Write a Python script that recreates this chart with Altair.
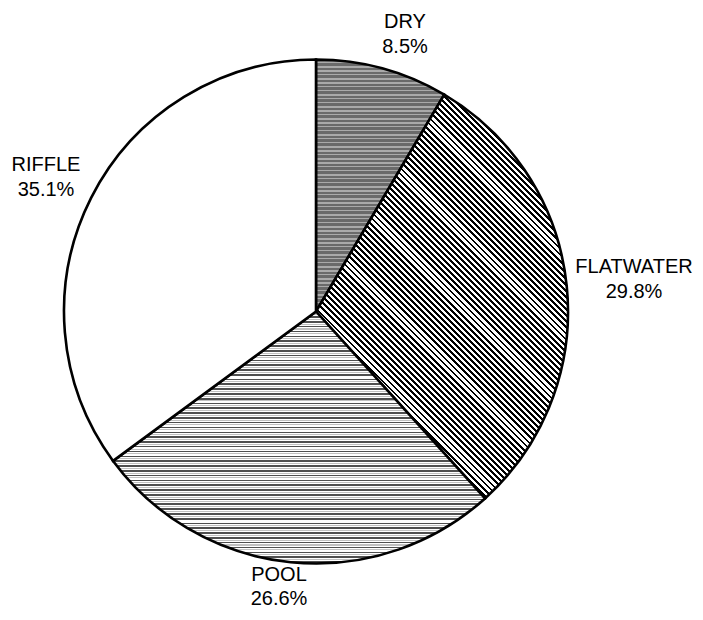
import math
import altair as alt
import pandas as pd

# ---- data ----
categories = ["DRY", "FLATWATER", "POOL", "RIFFLE"]
percents = [8.5, 29.8, 26.6, 35.1]
pct_labels = ["8.5%", "29.8%", "26.6%", "35.1%"]

# ---- layout ----
W, H = 687, 600            # svg size (page has 8px margin)
CX, CY = 308, 303.5        # pie centre in svg coords
R = 252                    # pie radius
# first-line centre offsets of each label from pie centre (pixels)
LABEL_POS = [(89, -289.5), (318, -44.5), (-37, 263), (-270, -146.5)]
FONT = "Liberation Sans"
FONT_SIZE = 20
LINE_H = 24.5

starts, ends = [], []
acc = 0.0
for p in percents:
    starts.append(acc)
    acc += p
    ends.append(acc)
total = acc

df = pd.DataFrame({
    "category": categories,
    "percent": percents,
    "label": [c + "\n" + l for c, l in zip(categories, pct_labels)],
    "start": starts,
    "end": ends,
    "mid": [(s + e) / 2 for s, e in zip(starts, ends)],
})


def arc_bbox(a0, a1):
    pts = [(0.0, 0.0)]
    angs = [a0, a1] + [k * 90 for k in range(5) if a0 < k * 90 < a1]
    for a in angs:
        r = math.radians(a)
        pts.append((R * math.sin(r), -R * math.cos(r)))
    xs = [p[0] for p in pts]
    ys = [p[1] for p in pts]
    return min(xs), min(ys), max(xs) - min(xs), max(ys) - min(ys)


def stripes(a0, a1, n, segs):
    _, _, w, h = arc_bbox(a0, a1)
    nx, ny = n
    norm = math.hypot(nx, ny)
    nx, ny = nx / norm, ny / norm
    corners = [(0, 0), (1, 0), (0, 1), (1, 1)]
    proj = [nx * u * w + ny * v * h for u, v in corners]
    i = min(range(4), key=lambda k: proj[k])
    D = max(proj) - min(proj)
    k = D / (nx * nx * w * w + ny * ny * h * h)
    p0 = corners[i]
    p1 = (p0[0] + k * nx * w, p0[1] + k * ny * h)
    stops = []
    pos = 0.0
    while pos < D:
        for c, l in segs:
            if pos >= D:
                break
            a = pos / D
            b = min(pos + l, D) / D
            stops.append(alt.GradientStop(offset=round(min(a, 1), 5), color=c))
            stops.append(alt.GradientStop(offset=round(min(b, 1), 5), color=c))
            pos += l
    return alt.LinearGradient(gradient="linear", stops=stops,
                              x1=p0[0], y1=p0[1], x2=p1[0], y2=p1[1])


patterns = {
    "DRY": ((0, 1), [("#6a6a6a", 2.2), ("#aaaaaa", 1.8)]),
    "FLATWATER": ((1, -1), [("#000000", 2.0), ("#ffffff", 2.3)]),
    "POOL": ((0, 1), [("#4f4f4f", 1.6), ("#ffffff", 1.0), ("#c0c0c0", 1.0), ("#ffffff", 1.2)]),
}

theta_scale = alt.Scale(domain=[0, total])
layers = []
for i, cat in enumerate(categories):
    a0 = starts[i] / total * 360
    a1 = ends[i] / total * 360
    if cat in patterns:
        n, segs = patterns[cat]
        fill = stripes(a0, a1, n, segs)
    else:
        fill = "#ffffff"
    layers.append(
        alt.Chart(df)
        .transform_filter(alt.datum.category == cat)
        .mark_arc(radius=R, fill=fill, stroke="#000000", strokeWidth=2.6)
        .encode(
            theta=alt.Theta("start:Q", scale=theta_scale, stack=False),
            theta2="end:Q",
            x=alt.value(CX),
            y=alt.value(CY),
        )
    )

for i, cat in enumerate(categories):
    th = math.radians(df["mid"][i] / total * 360)
    ux, uy = math.sin(th), -math.cos(th)
    rx, ry = LABEL_POS[i]
    r = rx * ux + ry * uy
    dx = rx - r * ux
    dy = ry - r * uy
    layers.append(
        alt.Chart(df)
        .transform_filter(alt.datum.category == cat)
        .mark_text(radius=r, dx=dx, dy=dy, font=FONT, fontSize=FONT_SIZE,
                   lineHeight=LINE_H, align="center", baseline="middle",
                   lineBreak="\n", color="#000000")
        .encode(
            theta=alt.Theta("mid:Q", scale=theta_scale, stack=False),
            text="label:N",
            x=alt.value(CX),
            y=alt.value(CY),
        )
    )

chart = (
    alt.layer(*layers)
    .properties(width=W, height=H, autosize=alt.AutoSizeParams(type="none"), padding=0)
    .configure_view(stroke=None)
)

chart.save("out.html", embed_options={"renderer": "svg", "actions": False})
